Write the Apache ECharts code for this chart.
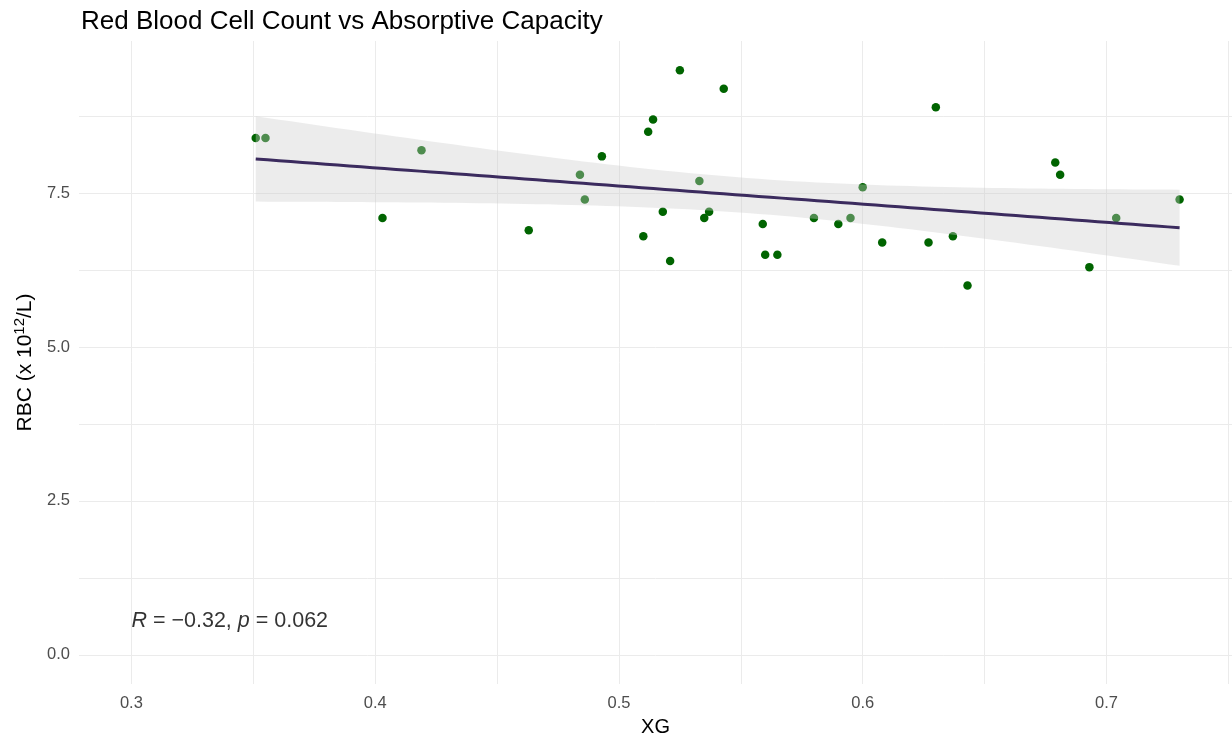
<!DOCTYPE html>
<html>
<head>
<meta charset="utf-8">
<script src="https://cdn.jsdelivr.net/npm/echarts@6/dist/echarts.min.js"></script>
<style>
  html, body { margin: 0; padding: 0; background: #ffffff; }
  #chart { width: 1232px; height: 742px; }
</style>
</head>
<body>
<div id="chart"></div>
<script>
// Absorptive capacity (XG) and red blood cell count for each subject
const xg = [0.351, 0.355, 0.403, 0.419, 0.463, 0.484, 0.486, 0.493, 0.510, 0.512,
            0.514, 0.518, 0.521, 0.525, 0.533, 0.535, 0.537, 0.543, 0.559, 0.560,
            0.565, 0.580, 0.590, 0.595, 0.600, 0.608, 0.627, 0.630, 0.637, 0.643,
            0.679, 0.681, 0.693, 0.704, 0.730];
const rbc = [8.4, 8.4, 7.1, 8.2, 6.9, 7.8, 7.4, 8.1, 6.8, 8.5,
             8.7, 7.2, 6.4, 9.5, 7.7, 7.1, 7.2, 9.2, 7.0, 6.5,
             6.5, 7.1, 7.0, 7.1, 7.6, 6.7, 6.7, 8.9, 6.8, 6.0,
             8.0, 7.8, 6.3, 7.1, 7.4];

const xGridValues = [0.3, 0.35, 0.4, 0.45, 0.5, 0.55, 0.6, 0.65, 0.7, 0.75];
const xTickLabels = [0.3, 0.4, 0.5, 0.6, 0.7];
const yGridValues = [0, 1.25, 2.5, 3.75, 5, 6.25, 7.5, 8.75];
const yTickLabels = [0, 2.5, 5, 7.5];
const statsText = ['R', ' = \u22120.32, ', 'p', ' = 0.062'];

// Ordinary least squares fit with a 95% confidence band
const n = xg.length;
const mx = xg.reduce((a, b) => a + b, 0) / n;
const my = rbc.reduce((a, b) => a + b, 0) / n;
let sxx = 0, sxy = 0;
for (let i = 0; i < n; i++) {
  sxx += (xg[i] - mx) * (xg[i] - mx);
  sxy += (xg[i] - mx) * (rbc[i] - my);
}
const slope = sxy / sxx;
const intercept = my - slope * mx;
let sse = 0;
for (let i = 0; i < n; i++) {
  const r = rbc[i] - (intercept + slope * xg[i]);
  sse += r * r;
}
const sigma = Math.sqrt(sse / (n - 2));
const tCrit = 2.0345; // t(0.975, df = 33)
const xMin = Math.min(...xg), xMax = Math.max(...xg);
const fitLine = [], bandUpper = [], bandLower = [];
const steps = 80;
for (let k = 0; k < steps; k++) {
  const x = xMin + (xMax - xMin) * k / (steps - 1);
  const y = intercept + slope * x;
  const se = sigma * Math.sqrt(1 / n + (x - mx) * (x - mx) / sxx);
  fitLine.push([x, y]);
  bandUpper.push([x, y + tCrit * se]);
  bandLower.push([x, y - tCrit * se]);
}

const points = xg.map((x, i) => [x, rbc[i]]);
const fontFamily = '"Liberation Sans", Arial, sans-serif';
const gridColor = '#ebebeb';

const chart = echarts.init(document.getElementById('chart'), null, { renderer: 'canvas' });
chart.setOption({
  animation: false,
  backgroundColor: '#ffffff',
  textStyle: { fontFamily: fontFamily },
  title: {
    text: 'Red Blood Cell Count vs Absorptive Capacity',
    left: 76,
    top: 4,
    textStyle: { fontFamily: fontFamily, fontSize: 26, fontWeight: 'normal', color: '#000000' }
  },
  grid: { left: 79, right: 0, top: 41, bottom: 57, containLabel: false },
  xAxis: {
    type: 'value',
    min: 0.2785,
    max: 0.7515,
    name: 'XG',
    nameLocation: 'middle',
    nameGap: 33,
    nameTextStyle: { fontFamily: fontFamily, fontSize: 20, color: '#000000' },
    axisLine: { show: false },
    axisTick: { show: false, customValues: xGridValues },
    axisLabel: {
      customValues: xTickLabels,
      margin: 11,
      fontSize: 16.5,
      color: '#4d4d4d',
      fontFamily: fontFamily,
      formatter: v => v.toFixed(1)
    },
    splitLine: { show: true, lineStyle: { color: gridColor, width: 1 } }
  },
  yAxis: {
    type: 'value',
    min: -0.475,
    max: 9.975,
    name: 'RBC (x 10{sup|12}/L)',
    nameLocation: 'middle',
    nameGap: 41,
    nameRotate: 90,
    nameTextStyle: {
      fontFamily: fontFamily, fontSize: 21, color: '#000000',
      rich: { sup: { fontSize: 15, verticalAlign: 'bottom', padding: [0, 0, 11, 0], fontFamily: fontFamily, color: '#000000' } }
    },
    axisLine: { show: false },
    axisTick: { show: false, customValues: yGridValues },
    axisLabel: {
      customValues: yTickLabels,
      margin: 9,
      fontSize: 16.5,
      color: '#4d4d4d',
      fontFamily: fontFamily,
      formatter: v => v.toFixed(1)
    },
    splitLine: { show: true, lineStyle: { color: gridColor, width: 1 } }
  },
  series: [
    {
      name: 'subjects',
      type: 'scatter',
      data: points,
      symbol: 'circle',
      symbolSize: 8.5,
      itemStyle: { color: '#006400', opacity: 1 },
      z: 2
    },
    {
      name: 'confidence band',
      type: 'custom',
      data: [[0]],
      silent: true,
      z: 3,
      renderItem: function (params, api) {
        const pts = bandUpper.map(p => api.coord(p))
          .concat(bandLower.slice().reverse().map(p => api.coord(p)));
        return {
          type: 'polygon',
          shape: { points: pts },
          style: { fill: 'rgba(205,205,205,0.38)', stroke: null }
        };
      }
    },
    {
      name: 'fit',
      type: 'line',
      data: fitLine,
      showSymbol: false,
      symbol: 'none',
      lineStyle: { color: '#3b2b5e', width: 3 },
      silent: true,
      z: 4
    },
    {
      name: 'stats',
      type: 'scatter',
      data: [[0.3, 0.55]],
      symbolSize: 0,
      silent: true,
      z: 5,
      label: {
        show: true,
        position: 'right',
        distance: 0,
        formatter: '{i|' + statsText[0] + '}{n|' + statsText[1] + '}{i|' + statsText[2] + '}{n|' + statsText[3] + '}',
        rich: {
          i: { fontFamily: fontFamily, fontSize: 21.5, fontStyle: 'italic', color: '#000000' },
          n: { fontFamily: fontFamily, fontSize: 21.5, color: '#000000' }
        }
      }
    }
  ]
});
</script>
</body>
</html>
